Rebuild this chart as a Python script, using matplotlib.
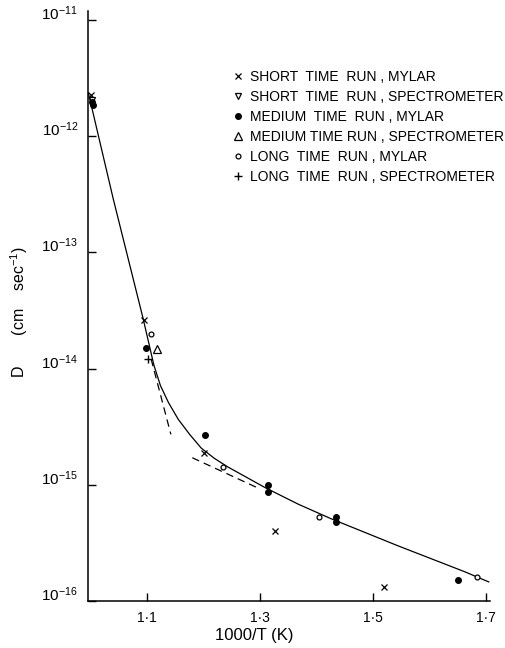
import matplotlib
matplotlib.use('Agg')
import matplotlib.pyplot as plt
from matplotlib.ticker import FixedLocator, NullLocator

plt.rcParams['font.family'] = ['Liberation Sans', 'DejaVu Sans']
plt.rcParams['mathtext.fontset'] = 'custom'
plt.rcParams['mathtext.rm'] = 'Liberation Sans'
plt.rcParams['mathtext.it'] = 'Liberation Sans:italic'
plt.rcParams['mathtext.bf'] = 'Liberation Sans:bold'

# 1000/T (K) and D (cm sec^-1)
short_mylar_x = [1.000, 1.094, 1.201, 1.327, 1.520]
short_mylar_d = [2.25e-12, 2.6e-14, 1.89e-15, 4.0e-16, 1.33e-16]
short_spec_x = [1.002]
short_spec_d = [2.05e-12]
medium_mylar_x = [1.002, 1.004, 1.098, 1.202, 1.314, 1.314, 1.435, 1.435, 1.651]
medium_mylar_d = [1.95e-12, 1.85e-12, 1.51e-14, 2.7e-15, 1.0e-15, 0.87e-15,
                  5.3e-16, 4.8e-16, 1.53e-16]
medium_spec_x = [1.117]
medium_spec_d = [1.48e-14]
long_mylar_x = [1.107, 1.235, 1.405, 1.685]
long_mylar_d = [2.0e-14, 1.42e-15, 5.25e-16, 1.62e-16]
long_spec_x = [1.102]
long_spec_d = [1.21e-14]

# solid curve
fit_x = [0.996, 1.040, 1.0929, 1.1067, 1.1122, 1.1236, 1.1377, 1.1551,
         1.1754, 1.1958, 1.2190, 1.2423, 1.310, 1.368, 1.426, 1.544,
         1.662, 1.705]
fit_d = [2.34e-12, 2.88e-13, 2.69e-14, 1.38e-14, 1.06e-14, 7.13e-15,
         5.11e-15, 3.66e-15, 2.71e-15, 2.07e-15, 1.69e-15, 1.43e-15,
         9.4e-16, 6.8e-16, 5.1e-16, 2.99e-16, 1.79e-16, 1.46e-16]

# the two dashed straight lines
dash1_x = [1.107, 1.142]
dash1_d = [1.21e-14, 2.72e-15]
dash2_x = [1.180, 1.298]
dash2_d = [1.71e-15, 0.93e-15]

xticks = [1.1, 1.3, 1.5, 1.7]
xtick_labels = ['1\u00b71', '1\u00b73', '1\u00b75', '1\u00b77']

fig = plt.figure(figsize=(5.05, 6.48), dpi=100)
ax = fig.add_axes([0.174, 0.0725, 0.796, 0.911])

ax.plot(fit_x, fit_d, color='black', lw=0.9)
ax.plot(dash1_x, dash1_d, color='black', lw=0.9, ls=(0, (6, 4)))
ax.plot(dash2_x, dash2_d, color='black', lw=0.9, ls=(0, (6, 4)))

ax.plot(short_mylar_x, short_mylar_d, ls='none', marker='x', ms=5, mew=0.9,
        color='black', label='SHORT  TIME  RUN , MYLAR')
ax.plot(short_spec_x, short_spec_d, ls='none', marker='v', ms=5, mew=0.9,
        mfc='white', color='black', label='SHORT  TIME  RUN , SPECTROMETER')
ax.plot(medium_mylar_x, medium_mylar_d, ls='none', marker='o', ms=4,
        color='black', label='MEDIUM  TIME  RUN , MYLAR')
ax.plot(medium_spec_x, medium_spec_d, ls='none', marker='^', ms=6, mew=0.9,
        mfc='none', color='black', label='MEDIUM TIME RUN , SPECTROMETER')
ax.plot(long_mylar_x, long_mylar_d, ls='none', marker='o', ms=3.5, mew=0.9,
        mfc='white', color='black', label='LONG  TIME  RUN , MYLAR')
ax.plot(long_spec_x, long_spec_d, ls='none', marker='+', ms=6, mew=1.0,
        color='black', label='LONG  TIME  RUN , SPECTROMETER')

ax.set_yscale('log')
ax.set_xlim(0.995, 1.707)
ax.set_ylim(1e-16, 10 ** -10.92)

ax.spines['top'].set_visible(False)
ax.spines['right'].set_visible(False)
ax.spines['left'].set_linewidth(1.1)
ax.spines['bottom'].set_linewidth(1.1)

ax.xaxis.set_major_locator(FixedLocator(xticks))
ax.set_xticklabels(xtick_labels)
ax.yaxis.set_major_locator(FixedLocator([1e-16, 1e-15, 1e-14, 1e-13, 1e-12, 1e-11]))
ax.yaxis.set_minor_locator(NullLocator())
ax.tick_params(axis='both', direction='in', length=6, width=1.0, colors='black')
ax.tick_params(axis='x', pad=7, labelsize=10)
ax.tick_params(axis='y', pad=7, labelsize=11)
for lab in ax.get_yticklabels():
    lab.set_va('baseline')

ax.set_xlabel('1000/T (K)', fontsize=12)
ax.xaxis.set_label_coords(0.415, -0.045)
ax.set_ylabel('D       (cm    sec$^{-1}$)', fontsize=11.5)
ax.yaxis.set_label_coords(-0.145, 0.49)

ax.legend(loc='upper left', bbox_to_anchor=(0.460, 0.892),
          bbox_transform=fig.transFigure, frameon=False, fontsize=10,
          handlelength=0.8, handletextpad=0.5, labelspacing=0.43,
          borderpad=0, borderaxespad=0, numpoints=1)

fig.savefig('out.png', dpi=100)
